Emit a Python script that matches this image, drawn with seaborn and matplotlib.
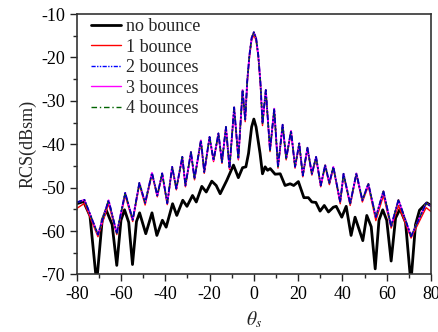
import matplotlib
matplotlib.use("Agg")
import matplotlib.pyplot as plt
import seaborn as sns

# ---- data ----
theta_multi = [-80, -76.5, -70.4, -65.6, -61.9, -58.1, -54.7, -51.7, -49.1, -46.0,
               -43.6, -41.4, -39.1, -36.9, -35.0, -32.3, -30.9, -28.4, -26.8, -23.9,
               -22.4, -20.0, -18.2, -16.0, -14.4, -12.6, -11.0, -8.9, -7.0, -5.1,
               -3.9, -3.0, -2.0, -1.0, 0.0, 1.0, 2.0, 3.0, 3.9, 5.4,
               7.3, 9.2, 10.9, 13.0, 14.6, 16.8, 18.6, 20.5, 22.1, 24.2,
               26.2, 28.1, 30.2, 32.2, 34.1, 35.9, 39.0, 40.5, 43.5, 46.3,
               49.0, 51.7, 55.1, 58.5, 62.0, 65.3, 71.0, 77.8, 80]
bounce2 = [-53.4, -52.8, -60.8, -52.9, -60.5, -51.2, -57.4, -48.9, -53.5, -46.6,
           -51.8, -46.7, -53.6, -45.2, -50.2, -42.9, -49.5, -41.8, -47.9, -39.1,
           -46.4, -38.3, -43.7, -37.5, -44.1, -36.0, -45.5, -31.5, -43.3, -27.5,
           -34.3, -25.5, -19.5, -15.5, -14.2, -15.5, -19.5, -26.0, -35.2, -27.5,
           -41.4, -31.8, -45.2, -35.5, -43.3, -36.9, -45.2, -39.8, -47.2, -40.8,
           -46.8, -42.9, -49.5, -44.8, -48.9, -45.2, -53.3, -46.8, -53.7, -46.7,
           -52.9, -49.1, -56.8, -50.8, -58.9, -52.8, -61.2, -53.6, -54.3]
bounce1 = [-54.8, -53.6, -61.3, -53.7, -60.8, -51.8, -57.8, -49.3, -54.0, -46.9,
           -52.1, -46.9, -53.9, -45.4, -50.5, -43.1, -49.8, -42.0, -48.2, -39.3,
           -46.7, -38.5, -44.0, -37.7, -44.4, -36.2, -45.8, -31.8, -43.6, -27.8,
           -34.8, -25.9, -20.0, -16.1, -14.8, -16.1, -20.0, -26.5, -35.7, -27.8,
           -41.7, -32.1, -45.5, -35.8, -43.6, -37.2, -45.5, -40.1, -47.5, -41.1,
           -47.1, -43.2, -49.8, -45.1, -49.3, -45.5, -53.7, -47.1, -54.1, -47.0,
           -53.3, -49.6, -57.6, -51.8, -59.3, -54.1, -61.6, -54.6, -55.5]
bounce3 = list(bounce2)
bounce4 = list(bounce2)

theta_none = [-80, -76.9, -74.0, -71.0, -68.5, -66.7, -64.0, -61.9, -60.0, -58.4,
              -56.5, -54.8, -53.0, -51.6, -48.8, -46.0, -43.8, -41.3, -39.6, -36.7,
              -34.8, -32.1, -30.2, -27.7, -26.0, -23.5, -21.5, -19.0, -17.0, -15.2,
              -12.2, -9.2, -7.0, -5.1, -3.6, -2.4, -1.0, 0.0, 1.0, 2.8,
              3.9, 5.1, 6.2, 7.4, 9.6, 11.9, 14.1, 16.4, 18.0, 20.1,
              22.6, 24.6, 26.2, 28.0, 29.9, 31.8, 33.7, 35.9, 37.2, 39.7,
              41.7, 43.9, 45.7, 49.2, 51.0, 53.0, 54.8, 56.5, 58.2, 60.0,
              62.0, 64.0, 66.0, 68.5, 70.9, 73.0, 74.8, 78.1, 80]
no_bounce = [-53.7, -53.2, -56.5, -72.0, -57.5, -55.1, -58.5, -67.9, -57.5, -55.1,
             -58.0, -67.7, -57.8, -55.8, -60.6, -55.8, -61.0, -57.5, -59.1, -53.7,
             -56.4, -52.9, -54.3, -51.8, -53.3, -49.7, -51.0, -48.5, -49.5, -51.4,
             -48.3, -44.8, -47.7, -45.4, -45.2, -42.1, -36.0, -34.2, -36.0, -42.1,
             -46.8, -45.2, -46.0, -45.6, -46.9, -46.8, -49.5, -49.1, -49.5, -48.6,
             -52.3, -52.3, -53.3, -53.4, -55.4, -54.1, -55.6, -54.5, -54.3, -56.8,
             -54.3, -61.0, -56.8, -62.2, -56.4, -59.0, -68.7, -57.5, -55.1, -57.5,
             -66.9, -57.0, -54.9, -58.0, -72.0, -58.5, -55.2, -53.5, -54.1]

labels = ["no bounce", "1 bounce", "2 bounces", "3 bounces", "4 bounces"]
x_ticks = [-80, -60, -40, -20, 0, 20, 40, 60, 80]
y_ticks = [-70, -60, -50, -40, -30, -20, -10]

# ---- style ----
sns.set_style("ticks")
plt.rcParams["font.family"] = ["Liberation Serif", "DejaVu Serif"]
plt.rcParams["mathtext.fontset"] = "stix"
plt.rcParams["axes.unicode_minus"] = False

fig = plt.figure(figsize=(4.39, 3.32), dpi=100)
ax = fig.add_axes([0.1747, 0.1732, 0.8071, 0.7846])

sns.lineplot(x=theta_none, y=no_bounce, ax=ax, color="black", lw=2.0,
             sort=False, estimator=None, label=labels[0])
sns.lineplot(x=theta_multi, y=bounce1, ax=ax, color="red", lw=1.0,
             sort=False, estimator=None, label=labels[1])
sns.lineplot(x=theta_multi, y=bounce3, ax=ax, color="#ff00ff", lw=1.3,
             sort=False, estimator=None, label=labels[3])
sns.lineplot(x=theta_multi, y=bounce4, ax=ax, color="#006400", lw=1.0,
             linestyle=(0, (4, 2, 1, 2)), sort=False, estimator=None, label=labels[4])
sns.lineplot(x=theta_multi, y=bounce2, ax=ax, color="#0000b0", lw=1.3,
             linestyle=(0, (3, 1, 1, 1, 1, 1)), sort=False, estimator=None,
             label=labels[2])

ax.set_xlim(-80, 80)
ax.set_ylim(-70, -10)
ax.set_xticks(x_ticks)
ax.set_yticks(y_ticks)
ax.set_xticks(range(-70, 80, 20), minor=True)
ax.set_yticks(range(-65, -10, 10), minor=True)
ax.tick_params(axis="both", which="major", direction="out", length=5, width=1,
               labelsize=13, colors="#222222", labelcolor="black",
               top=False, right=False)
ax.tick_params(axis="both", which="minor", direction="out", length=3, width=1,
               top=False, right=False)
for s in ax.spines.values():
    s.set_visible(True)
    s.set_linewidth(1.2)
    s.set_color("#333333")

ax.set_xlabel(r"$\theta_s$", fontsize=14)
ax.xaxis.set_label_coords(0.5, -0.135)
ax.set_ylabel("RCS(dBsm)", fontsize=13)
ax.yaxis.set_label_coords(-0.112, 0.5)

handles, labs = ax.get_legend_handles_labels()
order = [labs.index(l) for l in labels]
leg = ax.legend([handles[i] for i in order], [labs[i] for i in order],
                loc="upper left", bbox_to_anchor=(0.04, 0.985), frameon=False,
                fontsize=13, handlelength=1.65, handletextpad=0.3,
                labelspacing=0.2, borderaxespad=0, borderpad=0)
for lh in leg.get_lines():
    lh.set_linewidth(1.0)
leg.get_lines()[0].set_linewidth(2.0)
leg.get_lines()[2].set_color("#0000ff")

fig.savefig("out.png", dpi=100)
